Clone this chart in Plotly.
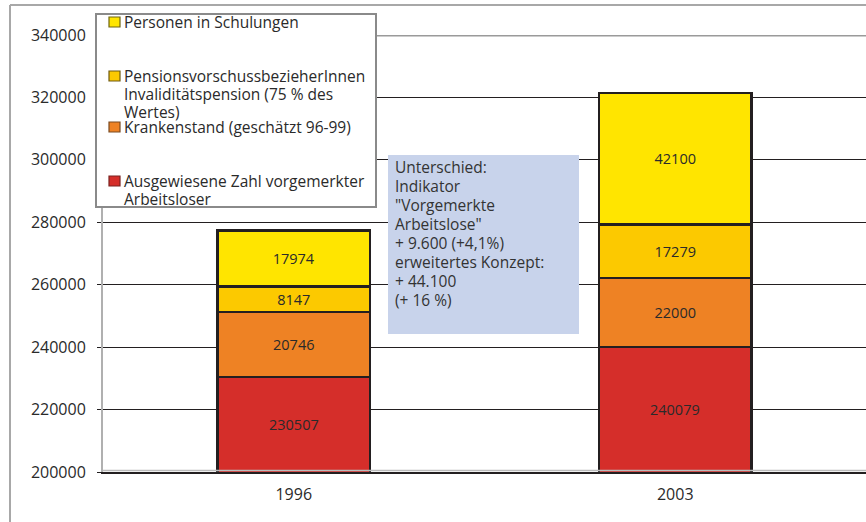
import plotly.graph_objects as go

# ---------------- data ----------------
years = ["1996", "2003"]
series_names = [
    "Ausgewiesene Zahl vorgemerkter Arbeitsloser",
    "Krankenstand (geschätzt 96-99)",
    "PensionsvorschussbezieherInnen Invaliditätspension (75 % des Wertes)",
    "Personen in Schulungen",
]
arbeitslose = [230507, 240079]
krankenstand = [20746, 22000]
pensionen = [8147, 17279]
schulungen = [17974, 42100]
y_min, y_max = 200000, 340000
y_ticks = [200000, 220000, 240000, 260000, 280000, 300000, 320000, 340000]
legend_lines = [
    ["Personen in Schulungen"],
    ["PensionsvorschussbezieherInnen", "Invaliditätspension (75 % des", "Wertes)"],
    ["Krankenstand (geschätzt 96-99)"],
    ["Ausgewiesene Zahl vorgemerkter", "Arbeitsloser"],
]
note_lines = [
    "Unterschied:",
    "Indikator",
    "\"Vorgemerkte",
    "Arbeitslose\"",
    "+ 9.600 (+4,1%)",
    "erweitertes Konzept:",
    "+ 44.100",
    "(+ 16 %)",
]

# ---------------- style ----------------
colors = ["#D52E2A", "#EE8224", "#FCC900", "#FFE500"]
sym_border = ["#7A2220", "#7A4A20", "#6E5A10", "#6E6410"]
FONT = "Open Sans"
TXT = "#2A2A2A"
W, H = 866, 522
L, R, T, B = 103, 0, 35, 50
PW, PH = W - L - R, H - T - B


def px(x):
    return (x - L) / PW


def py(y):
    return (H - B - y) / PH


fig = go.Figure()
values = [arbeitslose, krankenstand, pensionen, schulungen]
for k, (name, vals, col) in enumerate(zip(series_names, values, colors)):
    fig.add_trace(go.Bar(
        x=years, y=vals, name=name,
        marker=dict(color=col, line=dict(color="#231F20", width=2.5)),
        text=None if k == 0 else [str(v) for v in vals],
        textposition="inside", insidetextanchor="middle",
        textfont=dict(family=FONT, size=14.5, color=TXT),
        constraintext="none",
        showlegend=False,
    ))

shapes = []
annotations = []

# labels of the bottom segment, centred on its visible part (category index)
for i, v in enumerate(arbeitslose):
    annotations.append(dict(x=i, y=(y_min + v) / 2, xref="x", yref="y",
                            text=str(v), showarrow=False,
                            font=dict(family=FONT, size=14.5, color=TXT)))

# outer frame
shapes.append(dict(type="line", xref="paper", yref="paper",
                   x0=px(10), x1=px(870), y0=py(5), y1=py(5),
                   line=dict(color="#A8A8A8", width=2)))
shapes.append(dict(type="line", xref="paper", yref="paper",
                   x0=px(10), x1=px(10), y0=py(5), y1=py(530),
                   line=dict(color="#A8A8A8", width=2)))
# top border of plot area
shapes.append(dict(type="line", xref="paper", yref="y",
                   x0=0, x1=1, y0=y_max, y1=y_max,
                   line=dict(color="#9A9A9A", width=3)))
# gray line above axis
shapes.append(dict(type="line", xref="paper", yref="paper",
                   x0=0, x1=1, y0=py(470.5), y1=py(470.5),
                   line=dict(color="#BBBBBB", width=1.5), layer="above"))

# legend box
shapes.append(dict(type="rect", xref="paper", yref="paper",
                   x0=px(96), x1=px(376), y0=py(14), y1=py(207),
                   fillcolor="white", line=dict(color="#8A8A8A", width=2),
                   layer="above"))
leg_first_y = [22, 76, 127, 181]
leg_col_idx = [3, 2, 1, 0]
for lines, y0, ci in zip(legend_lines, leg_first_y, leg_col_idx):
    shapes.append(dict(type="rect", xref="paper", yref="paper",
                       x0=px(109), x1=px(120), y0=py(y0 - 5), y1=py(y0 + 5),
                       fillcolor=colors[ci], line=dict(color=sym_border[ci], width=1.2),
                       layer="above"))
    for i, ln in enumerate(lines):
        annotations.append(dict(xref="paper", yref="paper", x=px(122), y=py(y0 + i * 18),
                                xanchor="left", yanchor="middle", showarrow=False,
                                text=ln, font=dict(family=FONT, size=15.5, color=TXT)))

# note box
shapes.append(dict(type="rect", xref="paper", yref="paper",
                   x0=px(388), x1=px(579), y0=py(155), y1=py(334),
                   fillcolor="#C8D3EB", line=dict(width=0), layer="above"))
for i, ln in enumerate(note_lines):
    annotations.append(dict(xref="paper", yref="paper", x=px(393), y=py(167 + i * 19),
                            xanchor="left", yanchor="middle", showarrow=False,
                            text=ln, font=dict(family=FONT, size=15.5, color="#333333")))

fig.update_layout(
    width=W, height=H, autosize=False,
    margin=dict(l=L, r=R, t=T, b=B),
    barmode="stack", bargap=0.6,
    paper_bgcolor="white", plot_bgcolor="white",
    font=dict(family=FONT, color=TXT),
    shapes=shapes, annotations=annotations,
    xaxis=dict(type="category", range=[-0.5, 1.5], showline=True,
               linecolor="#231F20", linewidth=2,
               ticks="", tickfont=dict(size=16, color=TXT), ticklabelstandoff=7,
               showgrid=False),
    yaxis=dict(range=[y_min, y_max], tickvals=y_ticks,
               ticktext=[str(v) for v in y_ticks],
               ticks="outside", ticklen=4, tickcolor="#231F20",
               showgrid=True, gridcolor="#231F20", gridwidth=1,
               showline=True, linecolor="#B0B0B0", linewidth=2,
               zeroline=False, tickfont=dict(size=16, color=TXT),
               ticklabelstandoff=8),
)

fig.write_html("out.html", config={"displayModeBar": False},
               post_script="document.body.style.margin='0';")
